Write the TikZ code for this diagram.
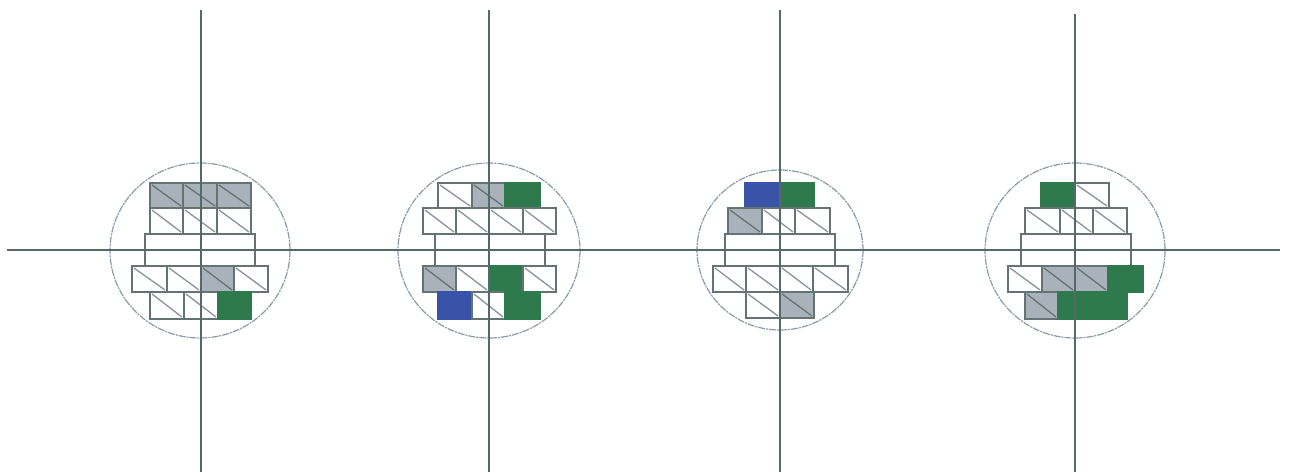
\documentclass[tikz,border=0pt]{standalone}
\definecolor{axiscol}{HTML}{55686A}
\definecolor{edgecol}{HTML}{667373}
\definecolor{diagcol}{HTML}{8793A0}
\definecolor{ringcol}{HTML}{8A9BA8}
\definecolor{greycell}{HTML}{A9B1BA}
\definecolor{greencell}{HTML}{2F7A4C}
\definecolor{bluecell}{HTML}{3853A8}
\tikzset{
  axisline/.style={draw=axiscol,line width=2pt},
  ring/.style={draw=ringcol,line width=1.2pt,dash pattern=on 7pt off 1pt on 2pt off 1pt},
  brick/.style={draw=edgecol,line width=1.8pt},
  diagline/.style={draw=diagcol,line width=1.3pt},
}
% x0 x1 y0 y1 : plain white brick with a diagonal
\newcommand{\whitecell}[4]{\path[brick,fill=white] (#1,#3) rectangle (#2,#4);\path[diagline] (#1+2,#3+2) -- (#2-2,#4-2);}
\newcommand{\greycellbox}[4]{\path[brick,fill=greycell] (#1,#3) rectangle (#2,#4);\path[diagline,draw=edgecol] (#1+2,#3+2) -- (#2-2,#4-2);}
\newcommand{\solidcell}[5]{\path[brick,draw=#5,fill=#5] (#1,#3) rectangle (#2,#4);}
\newcommand{\midcell}[3]{\path[brick,fill=white] (#1,#3) rectangle (#2,266);\path[brick] (#1,234) -- (#2,234);}
\begin{document}
\begin{tikzpicture}[x=1pt,y=-1pt]
\useasboundingbox[fill=white] (0,0) rectangle (1289,473);
% ---- panel 1
\path[ring] (200,250.5) ellipse [x radius=90,y radius=87.5];
\foreach \a/\b in {150/183,183/217,217/251}{\greycellbox{\a}{\b}{183}{208}}
\foreach \a/\b in {150/183,183/217,217/251}{\whitecell{\a}{\b}{208}{234}}
\midcell{145}{255}{234}
\foreach \a/\b in {132/167,167/201,234/268}{\whitecell{\a}{\b}{266}{292}}
\greycellbox{201}{234}{266}{292}
\foreach \a/\b in {150/184,184/218}{\whitecell{\a}{\b}{292}{319}}
\solidcell{218}{251}{292}{319}{greencell}
% ---- panel 2
\path[ring] (489,250.5) ellipse [x radius=91,y radius=87.5];
\whitecell{438}{472}{183}{208}
\greycellbox{472}{505}{183}{208}
\solidcell{505}{540}{183}{208}{greencell}
\foreach \a/\b in {423/456,456/489,489/523,523/556}{\whitecell{\a}{\b}{208}{234}}
\midcell{435}{545}{234}
\greycellbox{423}{456}{266}{292}
\whitecell{456}{489}{266}{292}
\solidcell{489}{523}{266}{292}{greencell}
\whitecell{523}{556}{266}{292}
\solidcell{438}{472}{292}{319}{bluecell}
\whitecell{472}{505}{292}{319}
\solidcell{505}{540}{292}{319}{greencell}
% ---- panel 3
\path[ring] (780,250) ellipse [x radius=83,y radius=80];
\solidcell{745}{781}{183}{208}{bluecell}
\solidcell{781}{814}{183}{208}{greencell}
\greycellbox{728}{762}{208}{234}
\foreach \a/\b in {762/795,795/830}{\whitecell{\a}{\b}{208}{234}}
\midcell{725}{835}{234}
\foreach \a/\b in {713/746,746/780,780/813,813/848}{\whitecell{\a}{\b}{266}{292}}
\whitecell{746}{780}{292}{318}
\greycellbox{780}{814}{292}{318}
% ---- panel 4
\path[ring] (1075,250.5) ellipse [x radius=90,y radius=87.5];
\solidcell{1041}{1075}{183}{208}{greencell}
\whitecell{1075}{1109}{183}{208}
\foreach \a/\b in {1025/1060,1060/1093,1093/1127}{\whitecell{\a}{\b}{208}{234}}
\midcell{1021}{1131}{234}
\whitecell{1008}{1042}{266}{292}
\foreach \a/\b in {1042/1075,1075/1108}{\greycellbox{\a}{\b}{266}{292}}
\solidcell{1108}{1143}{266}{292}{greencell}
\greycellbox{1025}{1058}{292}{319}
\foreach \a/\b in {1058/1092,1092/1127}{\solidcell{\a}{\b}{292}{319}{greencell}}
% ---- axes
\coordinate (hl) at (7,249.5);
\coordinate (hr) at (1280,249.5);
\draw[axisline] (hl) -- (hr);
\foreach \n/\x/\t in {a/200.5/10,b/488.5/10,c/780/10,d/1075/14}{
  \coordinate (\n top) at (\x,\t);
  \coordinate (\n bot) at (\x,472);
  \draw[axisline] (\n top) -- (\n bot);
}
\end{tikzpicture}
\end{document}
